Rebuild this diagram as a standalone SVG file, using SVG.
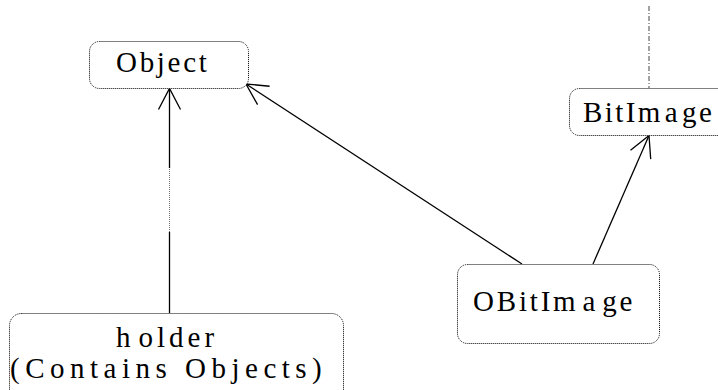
<svg xmlns="http://www.w3.org/2000/svg" width="718" height="390" viewBox="0 0 718 390">
<style>
.box{fill:#fff;stroke:#000;stroke-width:1;stroke-dasharray:1 1}
.edge{fill:none;stroke:#000;stroke-width:1.3}
.lbl{font-family:'Liberation Serif','DejaVu Serif',serif;font-size:29px;fill:#000}
</style>
<defs>
<marker id="open" markerUnits="userSpaceOnUse" markerWidth="30" markerHeight="30" viewBox="-25 -15 30 30" refX="0" refY="0" orient="auto">
<path d="M -21 -11 L 0 0 L -21 11" fill="none" stroke="#000" stroke-width="1.3"/>
</marker>
</defs>
<rect width="718" height="390" fill="#fff"/>
<g id="connectors">
<line x1="649" y1="6" x2="649" y2="88" stroke="#444" stroke-width="1" stroke-dasharray="5 2 1 2"/>
<path class="edge" d="M169.5 313 V232"/>
<path d="M169.5 232 V168" fill="none" stroke="#777" stroke-width="1" stroke-dasharray="1 1"/>
<path class="edge" d="M169.5 168 V88.5" marker-end="url(#open)"/>
<path class="edge" d="M522 264 L246 84" marker-end="url(#open)"/>
<path class="edge" d="M593 264 L649 135.5" marker-end="url(#open)"/>
</g>
<g id="node-object">
<rect class="box" x="89.5" y="41.5" width="159" height="47" rx="10"/>
<text class="lbl" x="116" y="72" letter-spacing="2.7">Object</text>
</g>
<g id="node-bitimage">
<rect class="box" x="569.5" y="88.5" width="200" height="47" rx="10"/>
<text class="lbl" x="583" y="122" letter-spacing="2.4" dx="0 0 0 0 0 2 2 0">BitImage</text>
</g>
<g id="node-obitimage">
<rect class="box" x="457.5" y="264.5" width="202" height="79" rx="10"/>
<text class="lbl" x="473" y="311" letter-spacing="2.8" dx="0 0 0 0 0 0 4 4 0">OBitImage</text>
</g>
<g id="node-holder">
<rect class="box" x="9.5" y="313.5" width="334" height="90" rx="12"/>
<text class="lbl" x="116" y="347" letter-spacing="4" dx="0 4 0 0 0 0">holder</text>
<text class="lbl" x="10" y="378" letter-spacing="5.5">(Contains Objects)</text>
</g>
</svg>
